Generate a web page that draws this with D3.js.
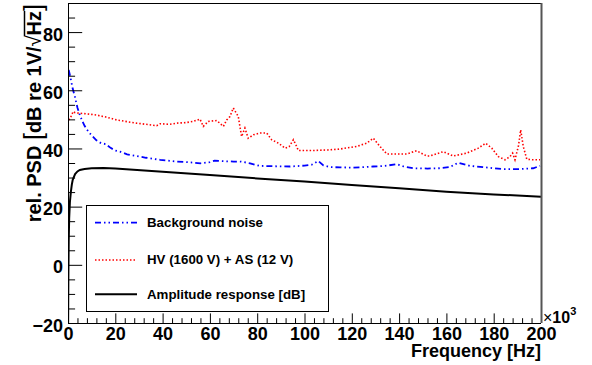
<!DOCTYPE html>
<html>
<head>
<meta charset="utf-8">
<script src="https://cdn.jsdelivr.net/npm/d3@7"></script>
<style>
  body { margin: 0; background: #fff; }
  svg { display: block; font-family: "Liberation Sans", Arial, Helvetica, sans-serif; }
</style>
</head>
<body>
<div class="psd"></div>
<script>
// frequency in kHz (axis is x10^3 Hz), values in dB
const noiseF = [0.3, 1, 2, 3, 4, 5, 6, 7, 8, 9, 10, 12, 14, 16, 18, 20, 22, 25, 29, 33, 39, 46, 52, 56, 60, 62, 66, 70, 73, 77, 81, 86, 94, 100, 103, 105.8, 108, 110.8, 115, 120.6, 125, 129, 134, 139, 142, 146, 152, 157, 161.5, 165, 170, 175.6, 180, 184, 191, 196.7, 199.6];
const noiseV = [67, 64.5, 60.5, 57.5, 54, 51.5, 49.5, 47.8, 46.5, 45.4, 44.5, 42.8, 41.8, 41.5, 40.2, 39.3, 38.9, 38.0, 37.4, 36.8, 36.1, 35.5, 35.2, 34.9, 35.3, 35.8, 35.6, 35.5, 35.5, 34.9, 34.0, 33.9, 33.8, 34.1, 34.4, 35.7, 34.2, 33.6, 33.5, 33.4, 33.6, 33.8, 34.0, 34.6, 33.8, 33.2, 33.1, 33.2, 33.6, 35.1, 34.0, 33.6, 33.2, 32.9, 32.9, 33.2, 34.0];

const hvF = [0.3, 1, 2.2, 3, 5, 8, 12, 16, 20.6, 25, 29, 33, 37.5, 39, 43, 46, 50, 53, 55.8, 57.2, 59.3, 62.9, 65.7, 67.1, 68.5, 69.9, 72, 73.4, 74.8, 76.2, 78.4, 81.2, 84, 86.1, 89, 91.8, 93.5, 95.3, 96.5, 97.4, 103.7, 110, 115, 122, 126.3, 129.1, 131.9, 134.8, 143.2, 147.4, 151.7, 153, 158.7, 162.9, 168.6, 173.5, 176.6, 179.2, 182, 184.8, 186.9, 188, 189, 190.5, 191.4, 192.5, 194, 196.7, 199.6];
const hvV = [49.8, 50.5, 52.7, 52.3, 52.1, 51.9, 51.5, 50.8, 49.8, 49.2, 48.7, 48.3, 47.8, 48.5, 48.3, 48.7, 48.9, 49.3, 50.1, 47.6, 49.3, 49.6, 47.6, 49.8, 51.0, 53.9, 51.0, 44.1, 47.0, 43.5, 44.7, 45.3, 45.3, 43.0, 41.8, 40.1, 40.6, 43.0, 41.0, 39.3, 39.3, 39.5, 39.8, 40.7, 41.8, 43.5, 40.7, 38.1, 38.1, 39.2, 37.4, 37.4, 38.9, 37.4, 38.4, 40.1, 41.8, 40.1, 37.2, 36.1, 37.2, 38.4, 36.1, 41.0, 46.4, 40.7, 36.3, 36.1, 36.1];

const respF = [0.05, 0.15, 0.3, 0.5, 0.8, 1.2, 1.6, 2, 3, 4, 5, 7, 10, 15, 20, 40, 60, 80, 100, 120, 140, 160, 180, 200];
const respV = [-20, -5, 8, 16, 21.5, 25, 27.5, 29.2, 31.2, 32.1, 32.6, 32.9, 33.2, 33.3, 33.1, 32.0, 30.9, 29.7, 28.6, 27.4, 26.3, 25.1, 24.2, 23.4];

const xTicks = [0, 20, 40, 60, 80, 100, 120, 140, 160, 180, 200];
const yTicks = [-20, 0, 20, 40, 60, 80];
const legendLabels = ["Background noise", "HV (1600 V) + AS (12 V)", "Amplitude response [dB]"];

const width = 592, height = 365;
const margin = {top: 3, right: 51, bottom: 42, left: 68};

const x = d3.scaleLinear().domain([0, 200]).range([margin.left, width - margin.right]);
const y = d3.scaleLinear().domain([-20, 90]).range([height - margin.bottom, margin.top]);

const svg = d3.select(".psd").append("svg")
    .attr("width", width)
    .attr("height", height);

svg.append("clipPath").attr("id", "clip")
  .append("rect")
    .attr("x", x(0)).attr("y", y(90))
    .attr("width", x(200) - x(0)).attr("height", y(-20) - y(90));

const series = [
  {f: noiseF, v: noiseV, color: "#0000ff", dash: "6,3,1.5,3,1.5,3", w: 1.8},
  {f: hvF, v: hvV, color: "#ff0000", dash: "1.5,2", w: 1.6},
  {f: respF, v: respV, color: "#000", dash: null, w: 2}
];

const line = d3.line().x(d => x(d[0])).y(d => y(d[1]));

svg.append("g").attr("clip-path", "url(#clip)")
  .selectAll("path")
  .data(series)
  .join("path")
    .attr("fill", "none")
    .attr("stroke", d => d.color)
    .attr("stroke-width", d => d.w)
    .attr("stroke-dasharray", d => d.dash)
    .attr("d", d => line(d.f.map((f, i) => [f, d.v[i]])));

// minor ticks
const xMinor = d3.range(0, 201, 4).filter(v => v % 20 !== 0);
const yMinor = d3.range(-20, 91, 5).filter(v => v % 20 !== 0);

svg.append("g")
    .attr("transform", `translate(0,${y(-20)})`)
    .call(d3.axisBottom(x).tickValues(xMinor).tickSize(-4.8).tickFormat(""))
    .call(g => g.select(".domain").remove());

svg.append("g")
    .attr("transform", `translate(${x(0)},0)`)
    .call(d3.axisLeft(y).tickValues(yMinor).tickSize(-7.1).tickFormat(""))
    .call(g => g.select(".domain").remove());

// major ticks + labels
svg.append("g")
    .attr("transform", `translate(0,${y(-20)})`)
    .call(d3.axisBottom(x).tickValues(xTicks).tickSize(-9.6).tickPadding(4).tickFormat(d3.format("d")))
    .call(g => g.select(".domain").remove())
    .call(g => g.selectAll(".tick text")
        .attr("font-family", "Liberation Sans, Arial, sans-serif")
        .attr("font-weight", "bold")
        .attr("font-size", 18)
        .attr("fill", "#000"));

svg.append("g")
    .attr("transform", `translate(${x(0)},0)`)
    .call(d3.axisLeft(y).tickValues(yTicks).tickSize(-14.2).tickPadding(5))
    .call(g => g.select(".domain").remove())
    .call(g => g.selectAll(".tick text")
        .attr("font-family", "Liberation Sans, Arial, sans-serif")
        .attr("font-weight", "bold")
        .attr("font-size", 18)
        .attr("dy", "0.45em")
        .attr("fill", "#000"));

svg.selectAll(".tick line").attr("stroke", "#000");

// frame
svg.append("path")
    .attr("fill", "none")
    .attr("stroke", "#000")
    .attr("shape-rendering", "crispEdges")
    .attr("d", `M${x(200)},${y(90)}H${x(0)}V${y(-20)}H${x(200)}`);
svg.append("line")
    .attr("x1", x(200) + 0.5).attr("x2", x(200) + 0.5)
    .attr("y1", y(90)).attr("y2", y(-20))
    .attr("stroke", "#555")
    .attr("stroke-width", 2);

// x10^3
const mult = svg.append("text")
    .attr("x", x(200) + 2)
    .attr("y", y(-20))
    .attr("font-size", 16)
    .attr("font-weight", "bold");
mult.append("tspan").attr("font-weight", "normal").text("×");
mult.append("tspan").text("10");
mult.append("tspan").attr("font-size", 11).attr("dy", -8).text("3");

// axis titles
svg.append("text")
    .attr("x", x(200))
    .attr("y", 357)
    .attr("text-anchor", "end")
    .attr("font-size", 18)
    .attr("font-weight", "bold")
    .text("Frequency [Hz]");

const yt = svg.append("g").attr("transform", "translate(41,4) rotate(-90)");
const ytext = yt.append("text")
    .attr("text-anchor", "end")
    .attr("font-size", 20)
    .attr("font-weight", "bold");
ytext.append("tspan").text("rel. PSD ");
ytext.append("tspan").attr("font-size", 25).attr("font-weight", "normal").attr("dy", 1).text("[");
ytext.append("tspan").attr("dy", -1).text("dB re 1V/");
ytext.append("tspan").attr("font-weight", "normal").text("√");
ytext.append("tspan").text("Hz");
ytext.append("tspan").attr("font-size", 25).attr("font-weight", "normal").attr("dy", 1).text("]");

const node = ytext.node();
const full = node.textContent;
const iRad = full.indexOf("√");
const iZ = full.indexOf("Hz") + 1;
const radBox = node.getExtentOfChar(iRad);
const zEnd = node.getEndPositionOfChar(iZ);
yt.append("line")
    .attr("x1", radBox.x + radBox.width - 1)
    .attr("x2", zEnd.x)
    .attr("y1", -16.5).attr("y2", -16.5)
    .attr("stroke", "#000")
    .attr("stroke-width", 1.5);

// legend
const lg = svg.append("g");
lg.append("rect")
    .attr("x", 86.5).attr("y", 205.5)
    .attr("width", 242).attr("height", 106)
    .attr("fill", "#fff")
    .attr("stroke", "#000");

const rowY = [222.7, 260, 294.3];
lg.selectAll("line.sample")
  .data(series)
  .join("line")
    .attr("class", "sample")
    .attr("x1", 95).attr("x2", 137)
    .attr("y1", (d, i) => rowY[i]).attr("y2", (d, i) => rowY[i])
    .attr("stroke", d => d.color)
    .attr("stroke-width", d => d.w)
    .attr("stroke-dasharray", d => d.dash);

lg.selectAll("text")
  .data(legendLabels)
  .join("text")
    .attr("x", 147)
    .attr("y", (d, i) => rowY[i] + 4.3)
    .attr("font-size", 13.3)
    .attr("font-weight", "bold")
    .text(d => d);
</script>
</body>
</html>
